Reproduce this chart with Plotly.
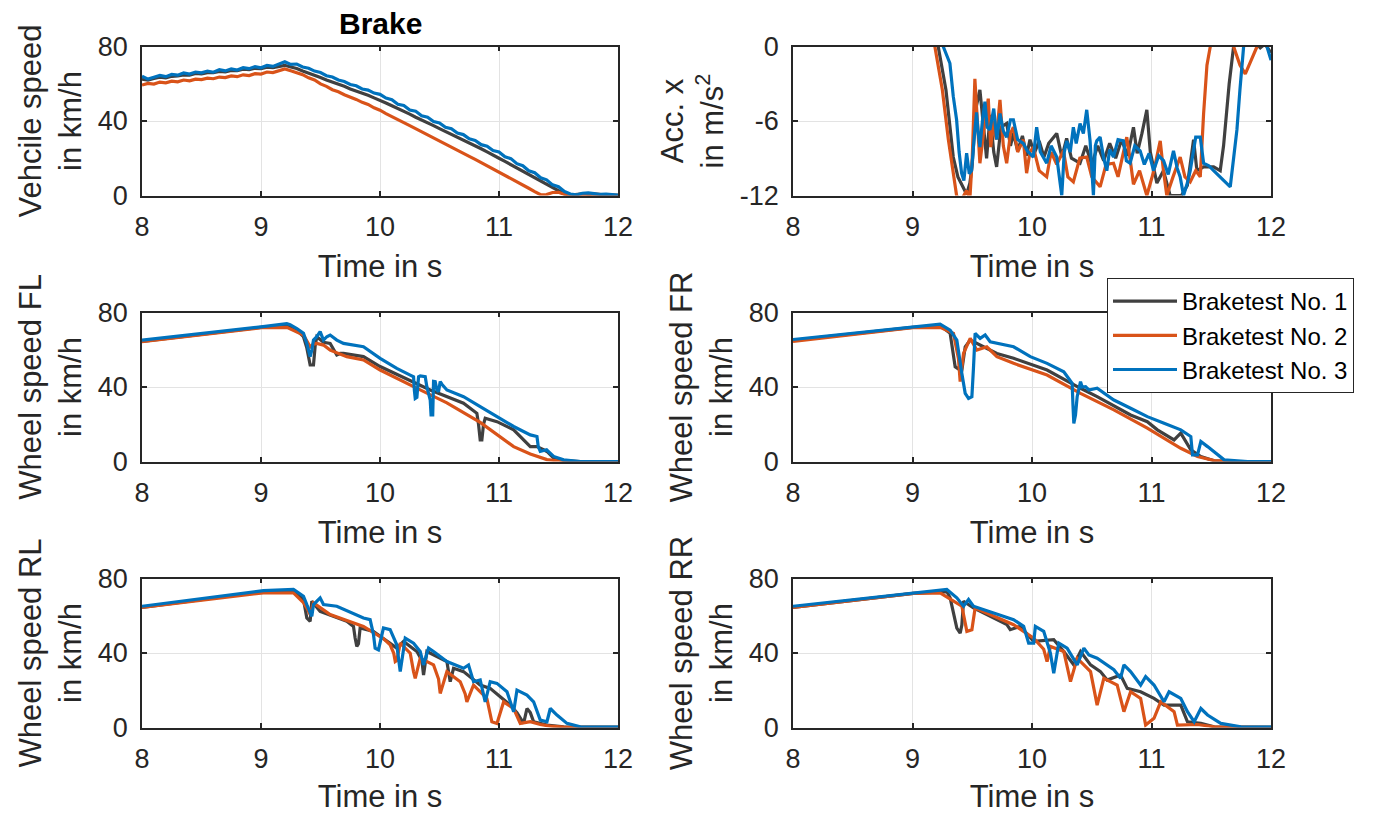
import plotly.graph_objects as go

# ---------------- data ----------------
SERIES_NAMES = ["Braketest No. 1", "Braketest No. 2", "Braketest No. 3"]
SERIES_COLORS = ["#404040", "#D95319", "#0072BD"]

# Vehicle speed (km/h), common time base (s)
VEH_T = [8.00, 8.05, 8.10, 8.15, 8.20, 8.25, 8.30, 8.35, 8.40, 8.45, 8.50, 8.55, 8.60, 8.65, 8.70, 8.75,
         8.80, 8.85, 8.90, 8.95, 9.00, 9.05, 9.10, 9.15, 9.20, 9.25, 9.30, 9.35, 9.40, 9.45, 9.50, 9.55,
         9.60, 9.65, 9.70, 9.75, 9.80, 9.85, 9.90, 9.95, 10.00, 10.05, 10.10, 10.15, 10.20, 10.25, 10.30,
         10.35, 10.40, 10.45, 10.50, 10.55, 10.60, 10.65, 10.70, 10.75, 10.80, 10.85, 10.90, 10.95, 11.00,
         11.05, 11.10, 11.15, 11.20, 11.25, 11.30, 11.35, 11.40, 11.45, 11.50, 11.55, 11.60, 11.65, 11.70,
         11.75, 11.80, 11.85, 11.90, 11.95, 12.00]
VEH_1 = [62.5, 62.0, 62.8, 63.5, 63.2, 64.0, 64.2, 64.8, 64.6, 65.5, 65.3, 66.0, 65.9, 66.6, 66.4, 67.2,
         67.0, 67.8, 67.6, 68.3, 68.1, 68.9, 68.7, 69.5, 69.9, 69.0, 68.2, 66.9, 65.8, 64.4, 63.4, 62.0,
         61.0, 59.6, 58.6, 57.2, 56.2, 54.8, 53.8, 52.4, 51.2, 49.7, 48.2, 46.8, 45.1, 43.7, 42.0,
         40.6, 38.9, 37.5, 35.9, 34.4, 32.8, 31.3, 29.7, 28.2, 26.6, 25.1, 23.4, 21.9, 20.0,
         18.3, 16.5, 14.8, 12.9, 11.2, 9.4, 7.6, 5.9, 4.1, 2.4, 0.8, 0.2, 0.5, 0.9,
         0.6, 0.4, 0.5, 0.3, 0.2, 0.1]
VEH_2 = [59.3, 60.2, 59.8, 60.9, 60.5, 61.4, 61.0, 62.0, 61.6, 62.5, 62.2, 63.0, 62.7, 63.6, 63.3, 64.2,
         63.8, 64.8, 64.4, 65.4, 65.2, 66.3, 66.0, 67.2, 68.0, 67.0, 66.0, 64.9, 63.2, 62.0, 59.9, 58.6,
         56.8, 55.7, 54.1, 52.9, 51.6, 50.0, 48.9, 47.1, 45.8, 44.0, 42.5, 40.8, 39.1, 37.5, 35.8,
         34.2, 32.5, 30.9, 29.2, 27.6, 25.9, 24.3, 22.6, 21.0, 19.4, 17.7, 16.1, 14.5, 12.8,
         11.0, 9.2, 7.5, 5.7, 3.9, 2.1, 0.4, 0.5, 1.6, 1.7, 0.6, 0.2, 0.3, 0.2,
         0.5, 0.9, 0.4, 0.2, 0.1, 0.1]
VEH_3 = [64.0, 62.5, 63.5, 64.5, 63.8, 65.0, 64.6, 65.8, 65.2, 66.3, 65.9, 66.8, 66.2, 67.5, 66.9, 68.0,
         67.4, 68.6, 68.1, 69.2, 68.6, 69.8, 69.3, 70.6, 71.8, 70.4, 70.6, 69.0, 68.3, 66.8, 66.0, 64.3,
         63.6, 62.0, 61.2, 59.6, 58.9, 57.2, 56.6, 55.0, 54.3, 52.3, 51.4, 49.0, 48.3, 45.9, 45.2,
         42.8, 42.0, 39.7, 38.9, 36.6, 35.8, 33.5, 32.7, 30.4, 29.6, 27.3, 26.5, 24.2, 23.4,
         20.8, 19.8, 17.1, 16.0, 13.3, 12.2, 9.5, 8.4, 5.7, 4.7, 2.1, 0.8, 0.3, 1.2,
         1.4, 0.9, 0.6, 0.7, 0.3, 0.2]

# Longitudinal acceleration (m/s^2)
ACC_T1 = [8.0, 9.15, 9.215, 9.28, 9.341, 9.38, 9.453, 9.48, 9.50, 9.53, 9.564, 9.59, 9.62, 9.65, 9.68,
          9.704, 9.74, 9.788, 9.82, 9.844, 9.88, 9.92, 9.955, 9.983, 10.02, 10.06, 10.10, 10.14, 10.207,
          10.25, 10.29, 10.33, 10.402, 10.45, 10.50, 10.55, 10.60, 10.65, 10.70, 10.75, 10.80, 10.849,
          10.88, 10.92, 10.961, 10.99, 11.045, 11.10, 11.156, 11.25, 11.30, 11.352, 11.38, 11.436, 11.52,
          11.575, 11.603, 11.65, 11.687, 11.75, 11.85, 11.91, 11.95, 12.0]
ACC_V1 = [1.8, 1.8, 0.0, -3.5, -8.9, -10.5, -11.9, -11.0, -9.5, -5.0, -3.5, -6.0, -9.0, -5.5, -8.5,
          -9.7, -6.5, -6.2, -8.0, -7.0, -8.4, -7.2, -8.8, -7.5, -8.6, -7.6, -8.9, -7.8, -7.0,
          -8.9, -7.4, -9.0, -9.4, -8.0, -9.5, -8.0, -9.2, -7.8, -9.0, -7.5, -8.8, -6.5,
          -8.6, -7.0, -5.1, -8.5, -11.0, -10.0, -12.0, -12.0, -11.2, -7.5, -10.0, -9.7, -9.7,
          -10.0, -8.0, -3.0, 0.0, 1.0, 0.5, -0.1, 0.2, -0.5]
ACC_T2 = [8.0, 9.13, 9.187, 9.25, 9.30, 9.369, 9.40, 9.453, 9.48, 9.50, 9.522, 9.54, 9.564, 9.60, 9.634,
          9.655, 9.676, 9.70, 9.732, 9.76, 9.788, 9.82, 9.844, 9.88, 9.927, 9.955, 9.983, 10.011, 10.06,
          10.123, 10.16, 10.207, 10.263, 10.30, 10.346, 10.40, 10.458, 10.50, 10.570, 10.62, 10.682, 10.72,
          10.793, 10.82, 10.849, 10.90, 10.961, 11.02, 11.073, 11.10, 11.128, 11.18, 11.240, 11.28, 11.324,
          11.37, 11.408, 11.436, 11.464, 11.492, 11.55, 11.66, 11.687, 11.74, 11.785, 11.83, 11.883, 11.95, 12.0]
ACC_V2 = [1.9, 1.9, 0.0, -3.5, -7.5, -12.0, -12.5, -11.6, -12.3, -9.0, -2.6, -6.0, -9.4, -6.5, -4.2,
          -8.1, -6.0, -7.5, -4.3, -8.0, -9.4, -7.0, -6.5, -8.5, -7.5, -10.2, -8.5, -8.1, -10.0,
          -10.5, -8.5, -9.5, -8.4, -10.5, -10.9, -9.0, -8.9, -10.5, -11.3, -9.5, -9.4, -10.5,
          -7.3, -9.0, -11.1, -10.0, -12.0, -10.0, -7.6, -10.0, -12.0, -10.5, -8.9, -10.5, -10.9,
          -10.0, -10.5, -5.4, -1.5, 0.0, 2.0, 1.5, 0.0, -1.5, -2.2, -1.2, 0.0, 1.0, 1.5]
ACC_T3 = [8.0, 9.20, 9.257, 9.313, 9.341, 9.369, 9.39, 9.411, 9.43, 9.453, 9.475, 9.494, 9.515, 9.536,
          9.55, 9.564, 9.585, 9.606, 9.625, 9.648, 9.68, 9.705, 9.732, 9.76, 9.788, 9.82, 9.844, 9.88,
          9.927, 9.96, 10.011, 10.039, 10.07, 10.123, 10.16, 10.207, 10.249, 10.27, 10.291, 10.32, 10.346,
          10.37, 10.402, 10.43, 10.458, 10.486, 10.514, 10.53, 10.542, 10.570, 10.60, 10.626, 10.65,
          10.682, 10.72, 10.765, 10.79, 10.821, 10.86, 10.905, 10.94, 10.98, 11.017, 11.06, 11.101,
          11.14, 11.184, 11.215, 11.240, 11.268, 11.30, 11.324, 11.37, 11.408, 11.436, 11.48, 11.520,
          11.575, 11.631, 11.659, 11.687, 11.715, 11.74, 11.771, 11.85, 11.94, 11.966, 12.0]
ACC_V3 = [1.7, 1.7, 0.0, -1.35, -4.0, -5.9, -8.5, -10.2, -10.8, -8.6, -10.25, -10.0, -7.5, -5.3,
          -7.0, -8.1, -6.0, -4.45, -6.5, -6.7, -5.0, -7.5, -5.4, -6.8, -7.3, -5.9, -5.9, -7.5,
          -7.8, -8.4, -8.9, -6.5, -8.5, -9.4, -8.0, -8.9, -12.0, -8.5, -7.6, -8.5, -6.5,
          -7.8, -6.2, -7.0, -5.1, -7.6, -12.0, -8.0, -7.6, -7.3, -9.0, -10.0, -8.3,
          -8.9, -7.5, -7.6, -9.2, -9.4, -8.0, -8.4, -9.5, -8.6, -10.0, -8.8, -9.2,
          -10.3, -8.4, -9.8, -10.5, -12.0, -11.0, -10.0, -7.3, -7.3, -9.4, -9.6, -10.0,
          -10.5, -11.0, -11.3, -9.0, -6.7, -3.5, 0.0, 1.5, 1.0, 0.0, -1.1]

# Wheel speed front left (km/h)
FL_T1 = [8.0, 9.0, 9.217, 9.301, 9.357, 9.385, 9.413, 9.441, 9.455, 9.469, 9.525, 9.581, 9.637, 9.665,
         9.693, 9.861, 10.001, 10.282, 10.422, 10.702, 10.786, 10.814, 10.828, 10.842, 10.856, 10.87,
         10.884, 10.983, 11.123, 11.207, 11.263, 11.319, 11.347, 11.403, 11.459, 11.543, 11.683, 12.0]
FL_V1 = [64.5, 72.0, 73.0, 70.5, 67.0, 61.0, 51.8, 51.8, 62.0, 67.0, 64.0, 63.4, 57.2, 58.0,
         58.0, 56.3, 51.0, 42.9, 38.4, 31.3, 27.0, 25.9, 20.0, 11.6, 11.6, 20.0,
         23.2, 21.4, 17.0, 11.6, 8.0, 8.0, 7.0, 5.4, 1.8, 0.5, 0.0, 0.0]
FL_T2 = [8.0, 9.0, 9.217, 9.357, 9.413, 9.441, 9.469, 9.525, 9.581, 9.721, 9.861, 10.001, 10.282,
         10.562, 10.842, 10.983, 11.123, 11.263, 11.403, 11.543, 12.0]
FL_V2 = [64.3, 71.8, 72.0, 67.9, 61.6, 63.0, 63.4, 62.5, 59.8, 56.3, 54.5, 49.1, 40.2,
         31.5, 21.0, 14.3, 8.0, 4.0, 1.0, 0.0, 0.0]
FL_T3 = [8.0, 8.5, 9.0, 9.217, 9.245, 9.301, 9.357, 9.385, 9.413, 9.427, 9.441, 9.469, 9.497, 9.525,
         9.553, 9.581, 9.637, 9.693, 9.861, 10.001, 10.141, 10.254, 10.282, 10.289, 10.296, 10.31,
         10.324, 10.338, 10.380, 10.394, 10.408, 10.422, 10.429, 10.443, 10.45, 10.464, 10.478, 10.492,
         10.506, 10.520, 10.562, 10.702, 10.842, 10.983, 11.123, 11.263, 11.319, 11.33, 11.347, 11.40,
         11.459, 11.543, 11.683, 12.0]
FL_V3 = [65.2, 68.6, 72.3, 74.0, 73.5, 71.4, 68.8, 63.4, 56.3, 59.8, 65.2, 67.0, 69.7, 65.2,
         67.0, 67.9, 65.2, 63.4, 61.6, 55.4, 50.0, 46.4, 45.5, 38.0, 33.9, 34.5,
         45.5, 45.9, 45.5, 40.0, 36.0, 33.0, 25.0, 25.0, 43.0, 42.9, 38.4, 37.5,
         42.9, 41.5, 38.4, 34.8, 29.5, 24.1, 18.8, 14.3, 13.4, 8.0, 5.4, 6.3,
         2.7, 0.9, 0.0, 0.0]

# Wheel speed front right (km/h)
FR_T1 = [8.0, 9.0, 9.231, 9.315, 9.357, 9.399, 9.413, 9.441, 9.483, 9.566, 9.706, 9.846, 10.126,
         10.406, 10.545, 10.825, 10.965, 11.049, 11.189, 11.245, 11.329, 11.413, 11.524, 11.7, 12.0]
FR_V1 = [65.0, 72.0, 73.0, 68.8, 50.9, 49.1, 49.1, 61.6, 65.2, 62.5, 58.0, 55.4, 49.1,
         39.3, 34.8, 25.0, 21.4, 17.0, 11.6, 15.2, 6.3, 2.7, 0.4, 0.0, 0.0]
FR_T2 = [8.0, 9.0, 9.231, 9.343, 9.385, 9.399, 9.427, 9.483, 9.538, 9.622, 9.706, 9.846, 10.126,
         10.406, 10.685, 10.965, 11.245, 11.385, 11.524, 11.664, 12.0]
FR_V2 = [64.5, 71.8, 72.0, 68.8, 55.0, 42.9, 58.0, 66.1, 59.8, 61.6, 56.3, 52.7, 46.4,
         36.6, 27.7, 17.9, 7.1, 2.7, 0.5, 0.0, 0.0]
FR_T3 = [8.0, 9.007, 9.231, 9.315, 9.371, 9.413, 9.441, 9.469, 9.497, 9.510, 9.524, 9.566, 9.608,
         9.650, 9.846, 9.986, 10.126, 10.266, 10.336, 10.343, 10.350, 10.364, 10.378, 10.406, 10.420,
         10.448, 10.476, 10.545, 10.685, 10.825, 10.965, 11.105, 11.245, 11.329, 11.343, 11.385,
         11.413, 11.469, 11.524, 11.608, 11.804, 12.0]
FR_V3 = [65.5, 72.3, 73.8, 70.5, 65.2, 47.3, 36.6, 33.9, 34.8, 50.0, 68.8, 66.1, 67.9,
         64.3, 61.6, 56.3, 52.7, 48.2, 42.0, 30.0, 20.5, 25.0, 34.8, 42.9, 40.0,
         40.2, 38.4, 39.3, 33.0, 28.6, 24.1, 20.5, 17.0, 13.4, 3.6, 3.6,
         10.7, 8.0, 5.4, 0.9, 0.0, 0.0]

# Wheel speed rear left (km/h)
RL_T1 = [8.0, 9.020, 9.273, 9.357, 9.385, 9.413, 9.427, 9.497, 9.721, 9.777, 9.791, 9.805, 9.819,
         9.833, 9.945, 10.141, 10.198, 10.310, 10.352, 10.366, 10.394, 10.562, 10.590, 10.618, 10.702,
         10.842, 10.926, 11.095, 11.151, 11.207, 11.235, 11.263, 11.291, 11.403, 11.543, 12.0]
RL_V1 = [64.5, 73.0, 73.5, 68.7, 58.8, 57.0, 67.8, 62.4, 57.0, 54.3, 48.0, 43.5, 45.0,
         53.4, 51.6, 42.6, 46.2, 40.8, 36.0, 28.2, 40.8, 35.4, 24.6, 31.8, 30.0,
         22.8, 21.0, 12.0, 8.0, 2.2, 10.2, 8.0, 3.1, 1.3, 0.4, 0.2]
RL_T2 = [8.0, 9.020, 9.273, 9.357, 9.385, 9.413, 9.441, 9.581, 9.861, 10.029, 10.085, 10.115, 10.128,
         10.141, 10.170, 10.254, 10.282, 10.296, 10.338, 10.450, 10.492, 10.506, 10.562, 10.674, 10.716,
         10.730, 10.786, 10.898, 10.940, 10.983, 11.039, 11.123, 11.179, 11.263, 11.347, 11.431, 11.543, 12.0]
RL_V2 = [64.5, 72.3, 72.3, 67.0, 64.2, 60.6, 66.9, 60.6, 54.3, 47.7, 44.4, 40.0, 35.4,
         36.0, 45.3, 39.9, 30.0, 26.4, 37.2, 33.6, 26.0, 18.3, 30.0, 24.6, 18.0,
         13.8, 22.8, 15.6, 3.1, 2.2, 13.8, 10.2, 2.2, 3.1, 1.6, 0.7, 0.2, 0.0]
RL_T3 = [8.0, 9.020, 9.273, 9.357, 9.385, 9.427, 9.441, 9.469, 9.497, 9.525, 9.637, 9.861, 9.917,
         9.945, 9.959, 9.987, 10.029, 10.085, 10.141, 10.170, 10.212, 10.282, 10.338, 10.366, 10.408,
         10.450, 10.562, 10.702, 10.744, 10.786, 10.842, 10.884, 10.926, 10.983, 11.067, 11.123, 11.151,
         11.235, 11.291, 11.347, 11.403, 11.431, 11.487, 11.571, 11.683, 12.0]
RL_V3 = [65.1, 73.5, 74.1, 70.5, 66.0, 59.7, 66.0, 67.8, 69.6, 66.0, 65.1, 58.8, 57.9,
         50.0, 42.6, 41.7, 53.4, 52.5, 44.4, 30.0, 48.0, 45.3, 40.8, 33.6, 42.6,
         40.8, 35.4, 31.8, 33.6, 24.6, 25.5, 13.8, 24.6, 23.7, 19.2, 8.5, 20.1,
         17.4, 13.8, 4.0, 3.1, 10.2, 6.7, 2.2, 0.4, 0.2]

# Wheel speed rear right (km/h)
RR_T1 = [8.0, 9.007, 9.287, 9.315, 9.371, 9.399, 9.413, 9.427, 9.510, 9.790, 9.818, 9.902, 10.014,
         10.182, 10.266, 10.350, 10.406, 10.490, 10.573, 10.629, 10.741, 10.797, 10.909, 11.021, 11.105,
         11.245, 11.301, 11.413, 11.524, 12.0]
RR_V1 = [64.5, 72.0, 73.0, 69.6, 53.4, 50.7, 55.0, 67.8, 64.2, 55.2, 52.5, 54.3, 46.2,
         47.1, 40.8, 33.6, 40.8, 33.6, 30.0, 25.5, 28.2, 21.0, 19.2, 15.6, 12.0,
         12.0, 3.1, 2.2, 0.4, 0.2]
RR_T2 = [8.0, 9.007, 9.231, 9.413, 9.455, 9.497, 9.524, 9.846, 10.014, 10.098, 10.126, 10.154, 10.266,
         10.322, 10.378, 10.490, 10.545, 10.601, 10.713, 10.769, 10.825, 10.909, 10.951, 11.021, 11.077,
         11.189, 11.217, 11.301, 11.385, 11.524, 12.0]
RR_V2 = [64.5, 72.0, 72.3, 65.1, 51.6, 52.5, 64.2, 55.2, 48.0, 42.0, 35.4, 43.5, 40.8,
         24.6, 37.2, 30.0, 12.0, 26.4, 22.8, 8.5, 19.2, 15.6, 1.3, 4.9, 13.8,
         8.5, 1.3, 1.6, 1.6, 0.4, 0.0]
RR_T3 = [8.0, 9.007, 9.287, 9.371, 9.427, 9.469, 9.510, 9.846, 9.930, 9.972, 10.014, 10.028, 10.098,
         10.154, 10.182, 10.224, 10.294, 10.378, 10.434, 10.476, 10.545, 10.685, 10.741, 10.769, 10.825,
         10.909, 10.951, 11.021, 11.105, 11.147, 11.245, 11.301, 11.357, 11.413, 11.469, 11.580, 11.748, 12.0]
RR_V3 = [65.1, 72.3, 74.1, 69.6, 65.1, 68.7, 65.1, 57.9, 54.3, 45.3, 45.3, 54.3, 51.6,
         39.9, 29.1, 45.3, 42.6, 33.6, 42.6, 39.0, 37.2, 31.0, 26.4, 33.6, 30.0,
         22.8, 27.3, 22.8, 13.8, 19.2, 15.6, 8.5, 3.1, 10.2, 6.7, 2.2, 0.4, 0.2]

X_TICKS = [8, 9, 10, 11, 12]
SPEED_TICKS = [0, 40, 80]
SPEED_TICKTEXT = ["0", "40", "80"]
ACC_TICKS = [-12, -6, 0]
ACC_TICKTEXT = ["-12", "-6", "0"]

# ---------------- figure ----------------
# The page body adds an 8 px margin; layout is given in window pixels and shifted by it.
OFF = 8
W, H = 1375 - OFF, 814 - OFF
FONT = "Arial, Liberation Sans, Helvetica, sans-serif"
AX_COLOR = "#262626"


def px_x(p):
    return (p - OFF) / W


def px_y(p):
    return 1 - (p - OFF) / H


panels = [
    ("Vehcile speed<br>in km/h", [(VEH_T, VEH_1), (VEH_T, VEH_2), (VEH_T, VEH_3)], [0, 80], SPEED_TICKS, SPEED_TICKTEXT),
    ("Acc. x<br>in m/s<sup>2</sup>", [(ACC_T1, ACC_V1), (ACC_T2, ACC_V2), (ACC_T3, ACC_V3)], [-12, 0], ACC_TICKS, ACC_TICKTEXT),
    ("Wheel speed FL<br>in km/h", [(FL_T1, FL_V1), (FL_T2, FL_V2), (FL_T3, FL_V3)], [0, 80], SPEED_TICKS, SPEED_TICKTEXT),
    ("Wheel speed FR<br>in km/h", [(FR_T1, FR_V1), (FR_T2, FR_V2), (FR_T3, FR_V3)], [0, 80], SPEED_TICKS, SPEED_TICKTEXT),
    ("Wheel speed RL<br>in km/h", [(RL_T1, RL_V1), (RL_T2, RL_V2), (RL_T3, RL_V3)], [0, 80], SPEED_TICKS, SPEED_TICKTEXT),
    ("Wheel speed RR<br>in km/h", [(RR_T1, RR_V1), (RR_T2, RR_V2), (RR_T3, RR_V3)], [0, 80], SPEED_TICKS, SPEED_TICKTEXT),
]

# window-pixel boxes of the plot areas
col_px = [(142, 618), (793, 1271)]
row_px = [(46.5, 195.5), (312.5, 461.5), (578.5, 727.5)]

fig = go.Figure()
layout = dict(
    width=W, height=H,
    margin=dict(l=0, r=0, t=0, b=0, pad=0, autoexpand=False),
    paper_bgcolor="white", plot_bgcolor="white",
    font=dict(family=FONT, color=AX_COLOR, size=27),
    showlegend=True,
    legend=dict(
        x=px_x(1107), y=px_y(278), xanchor="left", yanchor="top",
        bgcolor="white", bordercolor=AX_COLOR, borderwidth=1,
        font=dict(family=FONT, size=24, color="#000000"),
        itemwidth=64, tracegroupgap=0,
    ),
)

for i, (ytitle, series, yrange, yticks, yticktext) in enumerate(panels):
    r, c = divmod(i, 2)
    n = "" if i == 0 else str(i + 1)
    xl, xr = col_px[c]
    yt, yb = row_px[r]
    for k, (tt, vv) in enumerate(series):
        fig.add_trace(go.Scatter(
            x=tt, y=vv, mode="lines", name=SERIES_NAMES[k],
            line=dict(color=SERIES_COLORS[k], width=3.2),
            xaxis="x" + n, yaxis="y" + n,
            legendgroup=SERIES_NAMES[k], showlegend=(i == 3),
            hoverinfo="skip",
        ))
    common = dict(
        showline=True, linecolor=AX_COLOR, linewidth=1.6, mirror="ticks",
        ticks="inside", ticklen=5, tickwidth=1.5, tickcolor=AX_COLOR,
        showgrid=True, gridcolor="#e3e3e3", gridwidth=1, zeroline=False,
        tickfont=dict(family=FONT, size=27, color=AX_COLOR), automargin=False,
    )
    layout["xaxis" + n] = dict(
        common, domain=[px_x(xl), px_x(xr)], range=[8, 12], tickvals=X_TICKS,
        anchor="y" + n, ticklabelstandoff=6,
        title=dict(text="Time in s", font=dict(family=FONT, size=31, color=AX_COLOR), standoff=15),
    )
    layout["yaxis" + n] = dict(
        common, domain=[px_y(yb), px_y(yt)], range=yrange, tickvals=yticks, ticktext=yticktext,
        anchor="x" + n, ticklabelstandoff=7,
        title=dict(text=ytitle, font=dict(family=FONT, size=31, color=AX_COLOR), standoff=7),
    )

fig.update_layout(**layout)
fig.add_annotation(
    text="<b>Brake</b>", x=px_x(380), y=px_y(23), xref="paper", yref="paper",
    xanchor="center", yanchor="middle", showarrow=False,
    font=dict(family=FONT, size=30, color="#000000"),
)

fig.write_html("out.html")
